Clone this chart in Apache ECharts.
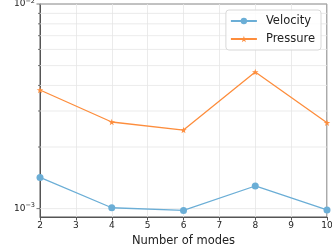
<!DOCTYPE html>
<html><head><meta charset="utf-8">
<script src="https://cdn.jsdelivr.net/npm/echarts@6/dist/echarts.min.js"></script>
<style>html,body{margin:0;padding:0;background:#fff}#c{width:332px;height:246px}</style>
</head><body><div id="c"></div>
<script>
const modes = [2, 4, 6, 8, 10];
const velocity = [1.42e-3, 1.01e-3, 0.98e-3, 1.29e-3, 0.985e-3];
const pressure = [3.8e-3, 2.65e-3, 2.42e-3, 4.65e-3, 2.63e-3];
const majorTicks = [1e-3, 1e-2];
const minorTicks = [2e-3, 3e-3, 4e-3, 5e-3, 6e-3, 7e-3, 8e-3, 9e-3];

const FONT = 'DejaVu Sans';
const chart = echarts.init(document.getElementById('c'), null, {renderer: 'canvas'});

function tickRender(len) {
  return function (p, api) {
    const v = api.value(1), p0 = api.coord([2, v]), p1 = api.coord([10, v]);
    return {type: 'group', children: [
      {type: 'line', shape: {x1: p0[0], y1: p0[1], x2: p1[0], y2: p1[1]}, style: {stroke: '#e6e6e6', lineWidth: 0.8}},
      {type: 'line', shape: {x1: p0[0] - len, y1: p0[1], x2: p0[0], y2: p0[1]}, style: {stroke: '#555', lineWidth: 0.8}}
    ]};
  };
}

chart.setOption({
  animation: false,
  textStyle: {fontFamily: FONT},
  grid: {left: 40, right: 5, top: 4, bottom: 29, show: true, borderColor: '#555', borderWidth: 1,
         backgroundColor: 'transparent', containLabel: false, outerBoundsMode: 'none'},
  legend: {
    right: 11, top: 10, orient: 'vertical', itemWidth: 26, itemHeight: 8, itemGap: 6,
    padding: [5, 6, 5, 4], borderColor: '#d8d8d8', borderWidth: 1, borderRadius: 3,
    backgroundColor: 'rgba(255,255,255,0.85)',
    textStyle: {fontFamily: FONT, fontSize: 11.5, color: '#222', padding: [0, 0, 0, 4]},
    data: ['Velocity', 'Pressure']
  },
  xAxis: {
    type: 'value', min: 2, max: 10, interval: 1,
    name: 'Number of modes', nameLocation: 'middle', nameGap: 13,
    nameTextStyle: {fontFamily: FONT, fontSize: 11.5, color: '#222'},
    axisLine: {lineStyle: {color: '#555', width: 1}},
    axisTick: {show: true, length: 3.5, lineStyle: {color: '#555'}},
    axisLabel: {fontFamily: FONT, fontSize: 9, color: '#222', margin: 4},
    splitLine: {show: true, lineStyle: {color: '#e6e6e6', width: 0.8}}
  },
  yAxis: {
    type: 'log', logBase: 10, min: 9.1e-4, max: 1e-2,
    name: 'Error', nameLocation: 'middle', nameGap: 29, nameRotate: 90,
    nameTextStyle: {fontFamily: FONT, fontSize: 11.5, color: '#222'},
    axisLine: {lineStyle: {color: '#555', width: 1}},
    axisTick: {show: false},
    splitLine: {show: false},
    axisLabel: {
      fontFamily: FONT, fontSize: 9, color: '#222', margin: 5,
      showMinLabel: true,
      formatter: function (v) {
        const e = Math.log10(v);
        if (Math.abs(e - Math.round(e)) > 1e-6) return '';
        return '10{sup|\u2212' + Math.abs(Math.round(e)) + '}';
      },
      rich: {sup: {fontFamily: FONT, fontSize: 6.5, color: '#222', padding: [0, 0, 6, 0]}}
    }
  },
  series: [
    {
      type: 'custom', name: 'minor', silent: true, clip: false, z: 1,
      coordinateSystem: 'cartesian2d',
      data: minorTicks.map(v => [2, v]), encode: {x: 0, y: 1},
      renderItem: tickRender(2)
    },
    {
      type: 'custom', name: 'major', silent: true, clip: false, z: 1,
      coordinateSystem: 'cartesian2d',
      data: majorTicks.map(v => [2, v]), encode: {x: 0, y: 1},
      renderItem: tickRender(3.5)
    },
    {
      name: 'Velocity', type: 'line', z: 3,
      data: modes.map((m, i) => [m, velocity[i]]),
      symbol: 'circle', symbolSize: 7,
      lineStyle: {color: '#6baed6', width: 1.3},
      itemStyle: {color: '#6baed6'}
    },
    {
      name: 'Pressure', type: 'line', z: 3,
      data: modes.map((m, i) => [m, pressure[i]]),
      symbol: 'path://M0,-1L0.2245,-0.309L0.951,-0.309L0.363,0.118L0.588,0.809L0,0.382L-0.588,0.809L-0.363,0.118L-0.951,-0.309L-0.2245,-0.309Z',
      symbolSize: 6.5,
      lineStyle: {color: '#fd8d3c', width: 1.3},
      itemStyle: {color: '#fd8d3c'}
    }
  ]
});
</script>
</body></html>
